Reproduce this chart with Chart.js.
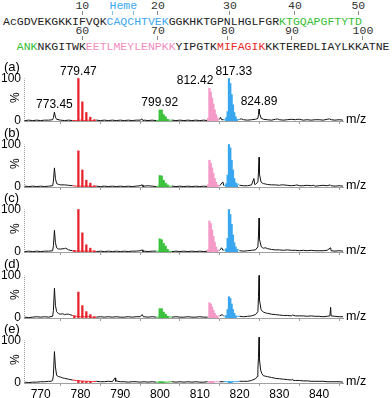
<!DOCTYPE html>
<html><head><meta charset="utf-8">
<script src="https://cdn.jsdelivr.net/npm/chart.js@4.4.1/dist/chart.umd.min.js"></script>
<style>
html,body{margin:0;padding:0;background:#fff;}
#wrap{position:relative;width:392px;height:398px;overflow:hidden;}
.seq{position:absolute;font-family:"Liberation Mono","Courier New",monospace;font-size:11.5px;line-height:14px;white-space:pre;color:#222;}
.num{position:absolute;font-family:"Liberation Mono","Courier New",monospace;font-size:11.5px;line-height:12px;color:#333;transform:translateX(-50%);white-space:pre;}
.tk{position:absolute;width:1px;background:#8a8a8a;}
canvas{position:absolute;left:0;}
</style></head>
<body><div id="wrap"></div>
<script>
// ---------------- data ----------------
const nTerm = 'Ac';
const sequence = 'GDVEKGKKIFVQKCAQCHTVEKGGKHKTGPNLHGLFGRKTGQAPGFTYTDANKNKGITWKEETLMEYLENPKKYIPGTKMIFAGIKKKTEREDLIAYLKKATNE';
const seqColors = [[14,22,'#3aa8f0'],[39,53,'#35c035'],[61,73,'#f28cc0'],[80,86,'#ea2a2a']];
const residueMarks = [10,20,30,40,50,60,70,80,90,100];
const hemeSites = [14,17];

const mzGrid = [766,767,768,769,770,771,772,773,774,775,776,777,778,779,780,781,782,783,784,785,786,787,788,789,790,791,792,793,794,795,796,797,798,799,800,801,802,803,804,805,806,807,808,809,810,811,812,813,814,815,816,817,818,819,820,821,822,823,824,825,826,827,828,829,830,831,832,833,834,835,836,837,838,839,840,841,842,843,844,845,846];
const xTickLabels = [770,780,790,800,810,820,830,840];
const yTickLabels = [0,100];
const panelNames = ['(a)','(b)','(c)','(d)','(e)'];
const labeledPeaks = [773.45,779.47,799.92,812.42,817.33,824.89];

const traceA = [1,2,1,2,1,2,2,3,4,2, 1,2,1,1,2,1,2,1,2,1, 2,1,2,1,2,1,2,1,2,2, 2,1,2,1,2,1,2,2,1,2, 1,2,1,2,1,2,1,2,1,4, 3,2,2,3,4,3,2,3,4,18, 4,3,2,4,3,2,3,4,3,4, 2,3,2,3,3,2,4,3,2,3, 2];
const peaksA = [[773.2,8],[773.45,21],[773.7,9],[795.45,5],[795.7,1],[815.2,9],[815.5,3],[820.5,5],[824.6,6],[824.75,15],[824.89,28],[825.4,7],[829.5,5],[834.5,4],[842.6,5]];
const redA = [[779.47,100],[780.47,45],[781.47,20],[782.47,9],[783.47,3]];
const greenA = [[799.92,26],[800.42,26],[800.92,15],[801.42,10],[801.92,4]];
const pinkA = [[812.09,6],[812.42,77],[812.75,68],[813.08,54],[813.42,40],[813.75,26],[814.08,15],[814.42,7]];
const blueA = [[816.67,8],[817.0,22],[817.33,100],[817.66,88],[818.0,62],[818.33,38],[818.66,20],[819.0,10],[819.33,4]];

const traceB = [2,1,2,1,2,1,2,3,8,5, 5,4,3,2,2,2,2,1,2,1, 2,1,2,1,2,1,2,1,2,3, 2,3,2,1,2,1,2,2,1,2, 1,2,1,2,1,2,1,2,2,3, 4,2,2,3,4,3,3,5,6,30, 8,6,5,5,4,5,4,3,4,3, 3,4,3,2,3,4,3,3,2,3, 2];
const peaksB = [[773.2,14],[773.45,45],[773.7,20],[774.5,6],[795.5,5],[795.7,1],[815.8,12],[816.1,4],[819.5,8],[823.6,20],[823.8,6],[824.6,12],[824.75,35],[824.89,70],[825.4,12],[825.7,9],[826.5,7],[830.5,5],[834.4,5],[838.6,4],[842.8,5]];
const redB = [[779.47,85],[780.47,40],[781.47,16],[782.47,9],[783.47,3]];
const greenB = [[799.92,27],[800.42,26],[800.92,16],[801.42,9],[801.92,5]];
const pinkB = [[812.09,5],[812.42,63],[812.75,56],[813.08,45],[813.42,32],[813.75,20],[814.08,11],[814.42,5]];
const blueB = [[816.67,8],[817.0,28],[817.33,100],[817.66,92],[818.0,63],[818.33,40],[818.66,20],[819.0,10],[819.33,5]];

const traceC = [1,2,1,2,1,2,2,3,10,7, 8,5,3,2,2,2,2,2,1,2, 1,2,1,2,1,2,1,2,2,3, 2,1,2,2,2,1,2,1,2,1, 2,1,2,1,2,1,2,2,2,4, 5,3,2,3,3,2,3,4,5,30, 9,8,6,5,5,4,5,4,4,3, 4,3,4,3,3,3,4,3,2,3, 2];
const peaksC = [[773.2,15],[773.45,51],[773.7,22],[774.5,7],[776.3,9],[795.5,5],[795.7,1],[815.5,10],[815.8,4],[819.6,6],[824.6,12],[824.75,40],[824.89,80],[825.4,14],[825.7,10],[826.5,10],[842.9,10],[843.2,3]];
const redC = [[778.47,4],[779.47,100],[780.47,45],[781.47,17],[782.47,9],[783.47,3]];
const greenC = [[799.92,31],[800.42,29],[800.92,20],[801.42,14],[801.92,6]];
const pinkC = [[812.09,5],[812.42,73],[812.75,67],[813.08,52],[813.42,37],[813.75,23],[814.08,12],[814.42,5]];
const blueC = [[816.67,8],[817.0,32],[817.33,100],[817.66,88],[818.0,65],[818.33,40],[818.66,22],[819.0,12],[819.33,5]];

const traceD = [2,1,2,3,2,3,2,4,15,9, 8,9,6,4,3,3,3,2,2,3, 2,3,2,3,2,2,3,2,3,3, 3,2,3,2,2,2,3,2,3,2, 2,3,2,2,3,2,2,2,3,5, 5,3,3,4,4,3,4,5,8,42, 14,11,9,8,7,6,6,5,5,5, 5,4,5,4,4,3,4,5,4,3, 3];
const peaksD = [[773.2,18],[773.45,70],[773.7,30],[774.5,10],[775.5,10],[776.5,9],[777.3,8],[795.5,8],[795.8,3],[815.6,8],[824.6,15],[824.75,50],[824.89,100],[825.4,20],[825.7,16],[826.5,12],[833.3,7],[842.7,5],[842.9,25],[843.2,5]];
const redD = [[778.47,4],[779.47,61],[780.47,29],[781.47,15],[782.47,8],[783.47,3]];
const greenD = [[799.92,22],[800.42,22],[800.92,14],[801.42,9],[801.92,4]];
const pinkD = [[812.42,36],[812.75,33],[813.08,26],[813.42,18],[813.75,11],[814.08,6],[814.42,3]];
const blueD = [[816.67,6],[817.0,20],[817.33,50],[817.66,46],[818.0,33],[818.33,20],[818.66,11],[819.0,5]];

const traceE = [2,1,2,2,3,3,4,6,18,14, 11,9,7,6,5,4,4,3,4,3, 3,4,3,5,3,3,2,3,3,2, 3,2,3,2,2,2,2,3,2,3, 2,3,2,3,2,2,3,3,3,3, 3,3,3,3,4,4,4,6,10,55, 17,15,13,11,10,9,8,7,6,6, 5,5,4,4,4,4,3,3,3,3, 2];
const peaksE = [[772.6,4],[773.2,20],[773.45,74],[773.7,38],[774.5,15],[775.5,12],[788.7,12],[788.85,4],[824.4,15],[824.6,32],[824.75,60],[824.89,108],[825.3,30],[825.6,22],[826.5,16],[833.3,9],[833.5,6]];
const redE = [[779.47,5],[780.47,4],[781.47,3],[782.47,2]];
const greenE = [[799.92,3],[800.42,3],[800.92,2]];
const pinkE = [[812.42,3],[812.75,4],[813.08,3],[813.42,2]];
const blueE = [[817.33,3],[817.66,3],[818.0,2]];

// ---------------- style / layout ----------------
const COL = {red:'#e8202a', green:'#34c034', pink:'#f59ac8', blue:'#39a7ef'};
const clusterRanges = [[778.2,783.9,COL.red],[799.3,802.5,COL.green],[811.7,814.9,COL.pink],[816.4,819.8,COL.blue]];
const SANS = '"Liberation Sans", Arial, sans-serif';
const wrap = document.getElementById('wrap');

// header sequence
const CW = 6.9, SX = 3;
const markNudgePx = {20:6.6, 30:9.6, 40:5.6, 70:6.6, 80:7.6, 90:2.6, 100:4.6};  // placement as in the original figure
const hemeNudgePx = 3;
function resColor(r){ for (const [a,b,c] of seqColors) if (r>=a && r<=b) return c; return '#222'; }
function buildLine(from, to, prefix){
  let html = prefix, cur = null, buf = '';
  for (let r = from; r <= to; r++){
    const c = resColor(r);
    if (c !== cur){ if (buf) html += `<span style="color:${cur}">${buf}</span>`; cur = c; buf = ''; }
    buf += sequence[r-1];
  }
  if (buf) html += `<span style="color:${cur}">${buf}</span>`;
  return html;
}
function addDiv(cls, html, left, top, extra){
  const d = document.createElement('div'); d.className = cls; d.innerHTML = html;
  d.style.left = left + 'px'; d.style.top = top + 'px';
  if (extra) Object.assign(d.style, extra);
  wrap.appendChild(d); return d;
}
addDiv('seq', buildLine(1, 50, nTerm), SX, 14.5);
addDiv('seq', buildLine(51, sequence.length, '  '), SX, 39.5);
function colOf(r){ return r <= 50 ? r + 1 : r - 49; }
residueMarks.forEach(m => {
  const line = m <= 50 ? 0 : 1;
  const x = SX + (colOf(m) + 0.5) * CW + (markNudgePx[m] || 0);
  addDiv('num', String(m), x, line ? 25 : 0);
  addDiv('tk', '', Math.round(x - 0.5), line ? 36 : 11, {height:'4px'});
});
{
  const xs = hemeSites.map(r => SX + (colOf(r) + 0.5) * CW + hemeNudgePx);
  addDiv('num', 'Heme', (xs[0] + xs[xs.length-1]) / 2, 0, {color:'#3aa8f0'});
  xs.forEach(x => addDiv('tk', '', Math.round(x - 0.5), 11, {height:'4px', background:'#7fbfea'}));
}

// spectra
function buildTrace(base, peaks){
  const pts = base.map((v, i) => ({x: mzGrid[i], y: v}));
  peaks.forEach(([x, y]) => pts.push({x, y}));
  pts.sort((a, b) => a.x - b.x);
  return pts;
}
function segColor(x){ for (const [a,b,c] of clusterRanges) if (x>=a && x<=b) return c; return '#111'; }

const panels = [
  {trace:traceA, peaks:peaksA, red:redA, green:greenA, pink:pinkA, blue:blueA, labels:labeledPeaks},
  {trace:traceB, peaks:peaksB, red:redB, green:greenB, pink:pinkB, blue:blueB, labels:[]},
  {trace:traceC, peaks:peaksC, red:redC, green:greenC, pink:pinkC, blue:blueC, labels:[]},
  {trace:traceD, peaks:peaksD, red:redD, green:greenD, pink:pinkD, blue:blueD, labels:[]},
  {trace:traceE, peaks:peaksE, red:redE, green:greenE, pink:pinkE, blue:blueE, labels:[]}
];
const Y0 = [121, 187, 252, 318, 383];
const PLOT_H = 62, PX_PER_PCT = 0.425;

const deco = {
  id: 'deco',
  beforeDatasetsDraw(chart){
    const {ctx, chartArea, scales:{y}} = chart;
    ctx.save();
    ctx.strokeStyle = '#9a9a9a'; ctx.lineWidth = 1; ctx.setLineDash([1,1]);
    ctx.beginPath();
    ctx.moveTo(chartArea.left + 0.5, y.getPixelForValue(0));
    ctx.lineTo(chartArea.left + 0.5, y.getPixelForValue(100));
    ctx.stroke();
    ctx.restore();
  },
  afterDatasetsDraw(chart){
    const o = chart.options.plugins.deco;
    const {ctx, chartArea, scales:{x, y}} = chart;
    ctx.save();
    ctx.fillStyle = '#000';
    ctx.font = '13px ' + SANS; ctx.textAlign = 'left'; ctx.textBaseline = 'middle';
    ctx.fillText(o.name, 4, y.getPixelForValue(100) - 11.5);
    ctx.font = '12.5px ' + SANS;
    ctx.fillText('m/z', chartArea.right + 3, chartArea.bottom - 1.5);
    ctx.save();
    ctx.translate(16, y.getPixelForValue(55));
    ctx.rotate(-Math.PI / 2);
    ctx.font = '12px ' + SANS; ctx.textAlign = 'center'; ctx.textBaseline = 'middle';
    ctx.fillText('%', 0, 0);
    ctx.restore();
    if (o.labels.length){
      ctx.font = '12px ' + SANS; ctx.textAlign = 'center'; ctx.textBaseline = 'alphabetic';
      const items = o.labels.map(mz => {
        let h = 0;
        chart.data.datasets.forEach(ds => ds.data.forEach(p => { if (Math.abs(p.x - mz) < 0.2 && p.y > h) h = p.y; }));
        const t = mz.toFixed(2);
        return {t, cx: x.getPixelForValue(mz), y: y.getPixelForValue(h) - 4, w: ctx.measureText(t).width};
      });
      for (let i = 0; i < items.length - 1; i++){
        const a = items[i], b = items[i+1];
        const ov = (a.cx + a.w/2) - (b.cx - b.w/2) + 2;
        if (ov > 0 && Math.abs(a.y - b.y) < 14){ a.cx -= ov * 0.75; b.cx += ov * 0.25; }
      }
      items.forEach(it => ctx.fillText(it.t, it.cx, it.y));
    }
    ctx.restore();
  }
};

panels.forEach((p, k) => {
  const last = k === panels.length - 1;
  const axisH = last ? 398 - Y0[k] : 4;
  const cv = document.createElement('canvas');
  cv.width = 392; cv.height = PLOT_H + axisH;
  cv.style.top = (Y0[k] - PLOT_H) + 'px';
  wrap.appendChild(cv);
  const bar = (arr, color) => ({type:'bar', data: arr.map(([x, y]) => ({x, y})), backgroundColor: color, borderWidth: 0, barThickness: 1.6, grouped: false});
  new Chart(cv, {
    type: 'line',
    data: {datasets: [
      bar(p.red, COL.red), bar(p.green, COL.green), bar(p.pink, COL.pink), bar(p.blue, COL.blue),
      {type:'line', data: buildTrace(p.trace, p.peaks), borderColor:'#111', borderWidth: 1, pointRadius: 0, tension: 0,
       segment: {borderColor: c => segColor((c.p0.parsed.x + c.p1.parsed.x) / 2)}}
    ]},
    options: {
      responsive: false, animation: false, devicePixelRatio: 1,
      layout: {padding: {left: 0, right: 49, top: 0, bottom: 0}, autoPadding: false},
      plugins: {legend: {display: false}, tooltip: {enabled: false}, deco: {name: panelNames[k], labels: p.labels}},
      scales: {
        x: {type: 'linear', min: 765.8, max: 846, offset: false,
            afterBuildTicks: s => { s.ticks = xTickLabels.map(v => ({value: v})); },
            afterFit: s => { s.height = axisH; s.paddingLeft = 0; s.paddingRight = 0; },
            grid: {display: true, drawOnChartArea: false, drawTicks: true, tickLength: 3, color: '#9a9a9a'},
            border: {display: true, color: '#a0a0a0', dash: [2,1]},
            ticks: {display: last, padding: 1, color: '#000', font: {size: 12, family: SANS}, maxRotation: 0, autoSkip: false}},
        y: {type: 'linear', min: 0, max: PLOT_H / PX_PER_PCT,
            afterBuildTicks: s => { s.ticks = yTickLabels.map(v => ({value: v})); },
            afterFit: s => { s.width = 24; s.paddingTop = 0; s.paddingBottom = 0; },
            grid: {display: false, drawTicks: false, tickLength: 0}, border: {display: false},
            ticks: {padding: 3, color: '#000', font: {size: 12, family: SANS}, callback: v => String(v)}}
      }
    },
    plugins: [deco]
  });
});
</script>
</body></html>
